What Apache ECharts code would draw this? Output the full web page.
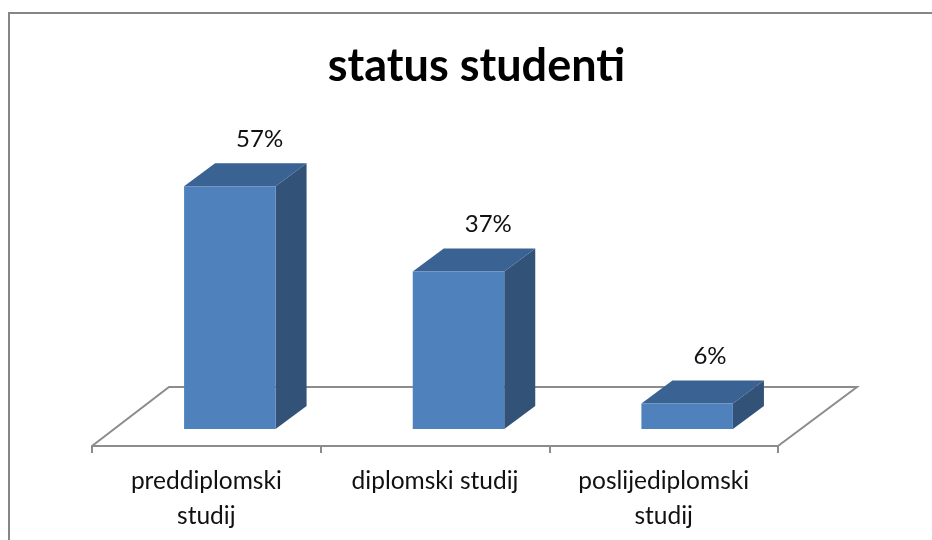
<!DOCTYPE html>
<html><head><meta charset="utf-8">
<script src="https://cdn.jsdelivr.net/npm/echarts@6/dist/echarts.min.js"></script>
<style>html,body{margin:0;padding:0;background:#fff}#c{width:932px;height:540px}</style>
</head><body><div id="c"></div>
<script>
const categories = ['preddiplomski\nstudij', 'diplomski studij', 'poslijediplomski\nstudij'];
const values = [57, 37, 6];
const titleText = 'status studenti';
const FONT = 'Lato';
const DX = 31, DY = 23, SHIFT = 23.5, FRONT = 91.5;

const chart = echarts.init(document.getElementById('c'), null, {renderer: 'canvas'});
chart.setOption({
  animation: false,
  backgroundColor: '#fff',
  title: {text: titleText, left: 471.5, top: 39, textAlign: 'center',
    textStyle: {fontFamily: FONT, fontSize: 45, fontWeight: 'bold', color: '#000'}},
  graphic: [{type: 'polyline', silent: true, z: 0,
    shape: {points: [[9, 540], [9, 13], [932, 13]]},
    style: {fill: null, stroke: '#868686', lineWidth: 2}}],
  grid: {left: 92, right: 154, top: 173.6, bottom: 111},
  xAxis: {type: 'category', data: categories, offset: 17,
    axisLine: {show: true, onZero: false, lineStyle: {color: '#8c8c8c', width: 2}},
    axisTick: {show: true, length: 7, alignWithLabel: false, lineStyle: {color: '#8c8c8c', width: 2}},
    axisLabel: {interval: 0, margin: 18, fontFamily: FONT, fontSize: 24.5, lineHeight: 35, color: '#111'}},
  yAxis: {type: 'value', min: 0, max: 60, show: false, splitLine: {show: false}},
  series: [{
    type: 'custom', coordinateSystem: 'cartesian2d', z: 1, silent: true, clip: false,
    data: [0], encode: {x: 0, y: 1},
    renderItem(params, api) {
      const cs = params.coordSys;
      const fy = cs.y + cs.height + 17, by = fy - 59;
      const x0 = cs.x, x1 = cs.x + cs.width;
      return {type: 'polyline', shape: {points: [[x0, fy], [x0 + 77, by], [x1 + 79, by], [x1, fy]]},
        style: {fill: null, stroke: '#8c8c8c', lineWidth: 2}};
    }
  }, {
    type: 'custom', coordinateSystem: 'cartesian2d', z: 2, clip: false,
    data: values.map((v, i) => [i, v]), encode: {x: 0, y: 1},
    renderItem(params, api) {
      const c = api.coord([api.value(0), api.value(1)]);
      const b = api.coord([api.value(0), 0]);
      const l = c[0] + SHIFT - FRONT / 2, r = l + FRONT, t = c[1], bt = b[1];
      return {type: 'group', children: [
        {type: 'polygon', shape: {points: [[r, t], [r + DX, t - DY], [r + DX, bt - DY], [r, bt]]},
          style: {fill: '#325278'}},
        {type: 'polygon', shape: {points: [[l, t], [l + DX, t - DY], [r + DX, t - DY], [r, t]]},
          style: {fill: '#3a6292'}},
        {type: 'rect', shape: {x: l, y: t, width: FRONT, height: bt - t},
          style: {fill: '#4f81bd'}},
        {type: 'text', x: l + 52, y: t - DY - 24,
          style: {text: api.value(1) + '%', fontFamily: FONT, fontSize: 24, fill: '#111',
            align: 'left', verticalAlign: 'middle'}}
      ]};
    }
  }]
});
</script></body></html>
